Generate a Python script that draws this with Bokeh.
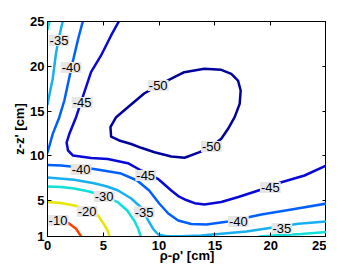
from bokeh.plotting import figure
from bokeh.models import Range1d, FixedTicker, LinearAxis, ColumnDataSource
from bokeh.core.properties import value
from bokeh.embed import file_html
from bokeh.resources import INLINE

# ---- contour traces (data units: rho-rho' [cm], z-z' [cm]) ----
c50_x = [5.70, 5.64, 6.15, 7.20, 8.66, 9.92, 11.36, 12.25, 14.05, 15.57, 16.47, 17.07, 17.31,
         17.22, 16.77, 16.18, 15.57, 14.68, 13.63, 12.28, 11.09, 9.59, 8.39, 7.50, 6.42, 5.70]
c50_y = [12.16, 13.20, 14.32, 15.43, 16.96, 17.86, 18.78, 19.34, 19.72, 19.61, 19.16, 18.41, 17.30,
         15.81, 14.32, 13.02, 11.91, 11.05, 10.41, 9.79, 9.93, 10.41, 10.90, 11.33, 11.72, 12.16]

c45_x = [6.39, 5.70, 4.80, 3.90, 3.25, 2.56, 1.96, 1.71, 1.84, 2.29, 3.90, 5.40, 7.20, 8.39, 9.89,
         11.09, 11.71, 12.43, 13.18, 14.05, 15.57, 17.10, 19.17, 20.96, 23.03, 25.0]
c45_y = [25.0, 23.44, 21.21, 19.34, 16.93, 14.32, 12.46, 11.49, 10.60, 10.04, 9.76, 9.65, 9.18, 8.37, 7.44,
         6.14, 5.52, 5.07, 4.72, 4.57, 4.85, 5.41, 6.25, 7.06, 7.81, 8.93]

c40a_x = [3.16, 2.71, 2.29, 1.96, 1.51, 1.06, 0.47, 0.18, 0.0]
c40a_y = [25.0, 22.88, 20.65, 18.78, 16.18, 14.32, 12.46, 11.16, 10.38]
c40b_x = [0.0, 1.21, 3.01, 4.17, 6.60, 8.03, 9.11, 10.01, 10.82, 11.71, 12.88, 14.23, 16.20, 19.17, 21.86, 25.0]
c40b_y = [8.98, 8.93, 8.70, 8.54, 8.03, 7.25, 6.14, 4.68, 3.57, 2.79, 2.40, 2.34, 2.67, 3.46, 4.01, 4.68]

c35a_x = [1.36, 1.17, 0.94, 0.76, 0.47, 0.16, 0.0]
c35a_y = [25.0, 24.0, 22.66, 21.43, 18.64, 16.74, 15.74]
c35b_x = [0.0, 2.38, 4.17, 5.34, 6.33, 7.50, 8.39, 9.02, 9.47, 9.92, 10.64, 11.98, 13.78, 15.57, 17.82,
          20.06, 22.49, 25.0]
c35b_y = [7.59, 7.33, 6.95, 6.58, 6.14, 5.24, 4.24, 2.79, 1.84, 1.22, 1.03, 1.03, 1.11, 1.30, 1.56,
          1.97, 2.42, 2.67]

c30a_x = [0.18, 0.0]
c30a_y = [25.0, 24.11]
c30b_x = [0.0, 1.21, 2.38, 3.73, 5.07, 6.33, 7.14, 7.76, 8.12, 8.35]
c30b_y = [6.58, 6.53, 6.36, 6.02, 5.52, 4.80, 3.90, 2.79, 1.89, 1.0]
c30c_x = [18.99, 20.96, 22.76, 25.0]
c30c_y = [1.0, 1.17, 1.28, 1.50]

c20_x = [0.0, 1.21, 2.38, 3.55, 4.53, 5.07, 5.39, 5.55]
c20_y = [4.85, 4.74, 4.46, 4.01, 3.34, 2.34, 1.67, 1.0]

c10_x = [0.0, 0.94, 1.93, 2.56, 3.01]
c10_y = [3.23, 3.01, 2.45, 1.86, 1.0]

seg_levels = [-50, -45, -40, -40, -35, -35, -30, -30, -30, -20, -10]
seg_xs = [c50_x, c45_x, c40a_x, c40b_x, c35a_x, c35b_x, c30a_x, c30b_x, c30c_x, c20_x, c10_x]
seg_ys = [c50_y, c45_y, c40a_y, c40b_y, c35a_y, c35b_y, c30a_y, c30b_y, c30c_y, c20_y, c10_y]

label_x = [9.92, 14.68, 3.10, 8.80, 19.97, 2.11, 3.01, 17.10, 1.03, 8.66, 21.0, 5.07, 3.55, 0.94]
label_y = [17.86, 11.05, 15.96, 7.81, 6.47, 19.87, 8.48, 2.67, 22.88, 3.73, 1.89, 5.47, 3.79, 2.79]
label_lv = [-50, -50, -45, -45, -45, -40, -40, -40, -35, -35, -35, -30, -20, -10]

x_ticks = [0, 5, 10, 15, 20, 25]
y_ticks = [1, 5, 10, 15, 20, 25]

level_color = {-50: "#00009c", -45: "#0808d8", -40: "#0060ff", -35: "#18b0f0",
               -30: "#10e0d8", -20: "#e6e600", -10: "#ff4000"}

p = figure(frame_width=279, frame_height=215, output_backend="svg", toolbar_location=None,
           x_range=Range1d(0, 25), y_range=Range1d(1, 25), min_border=0,
           margin=(10, 0, 0, 9), title=" ")
p.title.text_font_size = "8px"
p.title.standoff = 0
p.xgrid.visible = False
p.ygrid.visible = False
p.outline_line_color = "black"
p.background_fill_color = "white"

src = ColumnDataSource(dict(xs=seg_xs, ys=seg_ys, color=[level_color[l] for l in seg_levels]))
p.multi_line("xs", "ys", source=src, line_color="color", line_width=2.5, line_join="round", line_cap="round")

lsrc = ColumnDataSource(dict(x=label_x, y=label_y, t=[str(l) for l in label_lv]))
p.text("x", "y", text="t", source=lsrc, text_align="center", text_baseline="middle",
       text_font=value("Liberation Sans"), text_font_size=value("13px"), text_color="black",
       background_fill_color="#e6e6e6", padding=1)

for ax in (p.xaxis[0], p.yaxis[0]):
    ax.major_tick_in = 4
    ax.major_tick_out = 0
    ax.minor_tick_line_color = None
    ax.axis_line_color = "black"
    ax.major_tick_line_color = "black"
    ax.major_label_text_font = "Liberation Sans"
    ax.major_label_text_font_style = "bold"
    ax.major_label_text_font_size = "13px"
    ax.major_label_text_color = "black"
    ax.axis_label_text_font = "Liberation Sans"
    ax.axis_label_text_font_style = "bold"
    ax.axis_label_text_font_size = "13px"
    ax.axis_label_text_color = "black"
p.xaxis[0].ticker = FixedTicker(ticks=x_ticks)
p.yaxis[0].ticker = FixedTicker(ticks=y_ticks)
p.xaxis[0].axis_label = "ρ-ρ' [cm]"
p.yaxis[0].axis_label = "z-z' [cm]"
p.xaxis[0].major_label_standoff = 4
p.yaxis[0].major_label_standoff = 3
p.xaxis[0].axis_label_standoff = -5
p.yaxis[0].axis_label_standoff = 0

top = LinearAxis(ticker=FixedTicker(ticks=x_ticks), major_label_text_font_size="0px",
                 major_label_standoff=0, major_tick_in=4, major_tick_out=0,
                 minor_tick_line_color=None, axis_line_color="black")
right = LinearAxis(ticker=FixedTicker(ticks=y_ticks), major_label_text_font_size="0px",
                   major_label_standoff=0, major_tick_in=4, major_tick_out=0,
                   minor_tick_line_color=None, axis_line_color="black")
p.add_layout(top, "above")
p.add_layout(right, "right")

open("out.html", "w").write(file_html(p, INLINE))
